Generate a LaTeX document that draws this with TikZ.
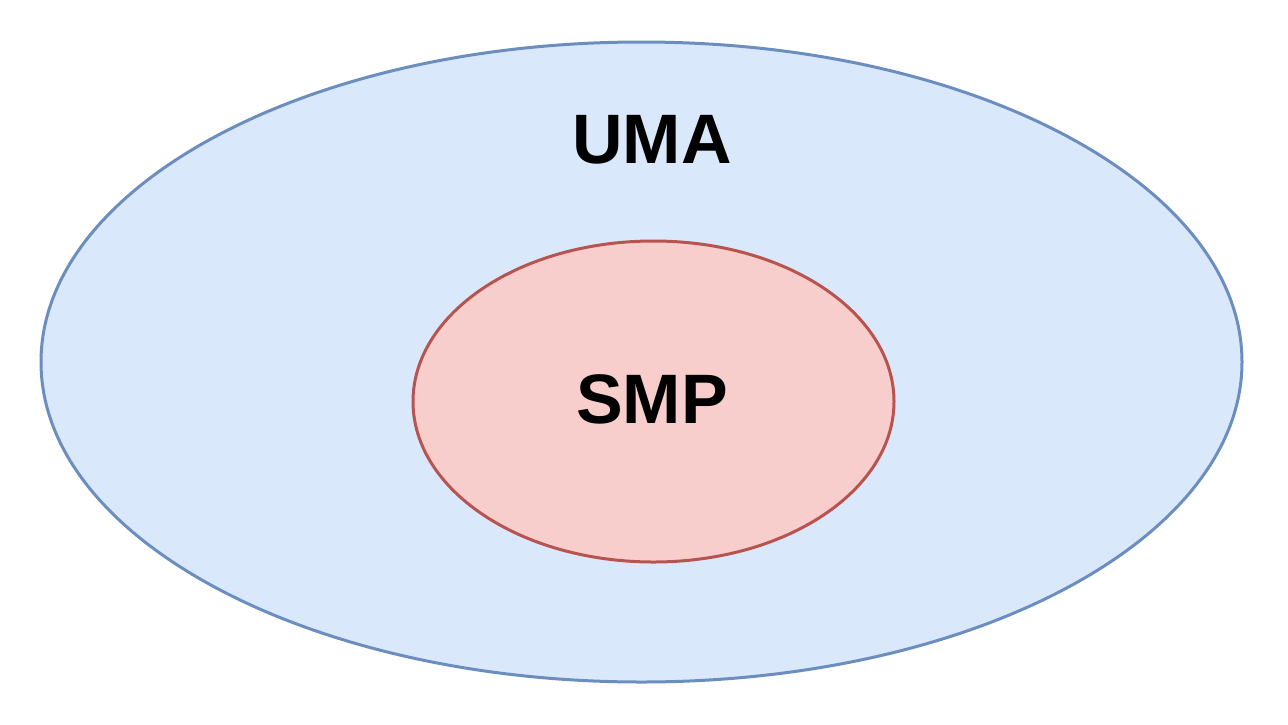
\documentclass[tikz,border=0pt]{standalone}
\usepackage{fontspec}
\setmainfont{Liberation Sans}
\definecolor{bluefill}{HTML}{DAE8FC}
\definecolor{bluedraw}{HTML}{6C8EBF}
\definecolor{redfill}{HTML}{F8CECC}
\definecolor{reddraw}{HTML}{B85450}
\begin{document}
\begin{tikzpicture}[x=1pt,y=-1pt,
  lbl/.style={font=\fontsize{70}{84}\selectfont\bfseries, inner sep=0pt, anchor=base}]
\useasboundingbox (0,0) rectangle (1288,724);
\fill[white] (0,0) rectangle (1288,724);
\draw[bluedraw, fill=bluefill, line width=3pt] (641.5,362) ellipse [x radius=600.5, y radius=320];
\draw[reddraw, fill=redfill, line width=3pt] (653.5,401.5) ellipse [x radius=240.5, y radius=160.5];
\node[lbl] (uma) at (652,163) {UMA};
\node[lbl] (smp) at (652,423) {SMP};
\end{tikzpicture}
\end{document}
